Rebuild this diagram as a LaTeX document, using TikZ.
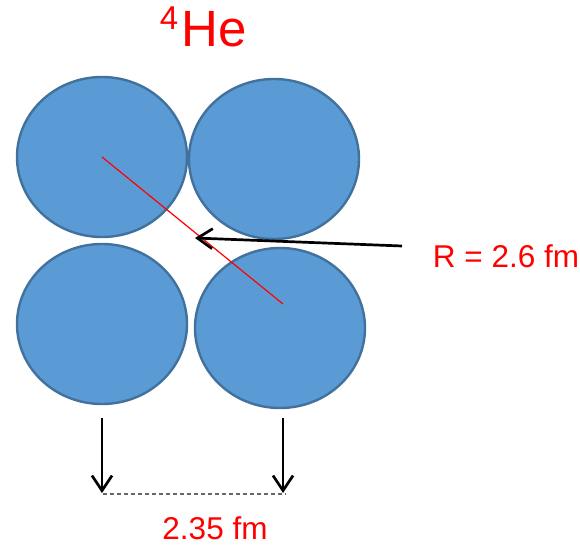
\documentclass[tikz,border=0pt]{standalone}
\usepackage{fontspec}
\setmainfont{Liberation Sans}
\usetikzlibrary{arrows.meta,shapes.geometric}
\definecolor{nucfill}{HTML}{5B9BD5}
\definecolor{nucedge}{HTML}{41719C}
\begin{document}
\begin{tikzpicture}[x=1pt,y=-1pt,
  nucleon/.style={ellipse, draw=nucedge, fill=nucfill, line width=2.4pt,
    minimum width=170pt, minimum height=160pt, inner sep=0pt},
  redtext/.style={text=red, inner sep=0pt, font=\fontsize{31.5}{36}\selectfont},
  pointer/.style={-{Straight Barb[length=15pt,width=20pt]}, line width=2.7pt, black}]
\useasboundingbox (0,0) rectangle (580,545);
% title
\node[text=red, inner sep=0pt, font=\fontsize{51}{60}\selectfont] (he) at (214,29) {He};
\node[text=red, inner sep=0pt, font=\fontsize{33}{40}\selectfont] (four) at (169,18) {4};
% nucleons
\node[nucleon] (tl) at (102,157) {};
\node[nucleon] (tr) at (274,159) {};
\node[nucleon] (bl) at (102,324) {};
\node[nucleon] (br) at (280,328) {};
% radius line
\coordinate (rend) at (283,304);
\draw[red, line width=1.2pt] (tl.center) -- (rend);
% R label and arrow
\node[redtext] (rlabel) at (506,256) {R = 2.6 fm};
\coordinate (rstart) at (402,246);
\coordinate (rtip) at (195,238);
\draw[pointer] (rstart) -- (rtip);
% distance arrows
\coordinate (la) at (102,418);
\coordinate (lb) at (102,493);
\coordinate (ra) at (283,418);
\coordinate (rb) at (283,493);
\draw[pointer] (la) -- (lb);
\draw[pointer] (ra) -- (rb);
\coordinate (dl) at (103,494);
\coordinate (dr) at (286,494);
\draw[gray!80!black, line width=1.3pt, dash pattern=on 4pt off 3pt] (dl) -- (dr);
\node[redtext] (dlabel) at (215,528) {2.35 fm};
\end{tikzpicture}
\end{document}
